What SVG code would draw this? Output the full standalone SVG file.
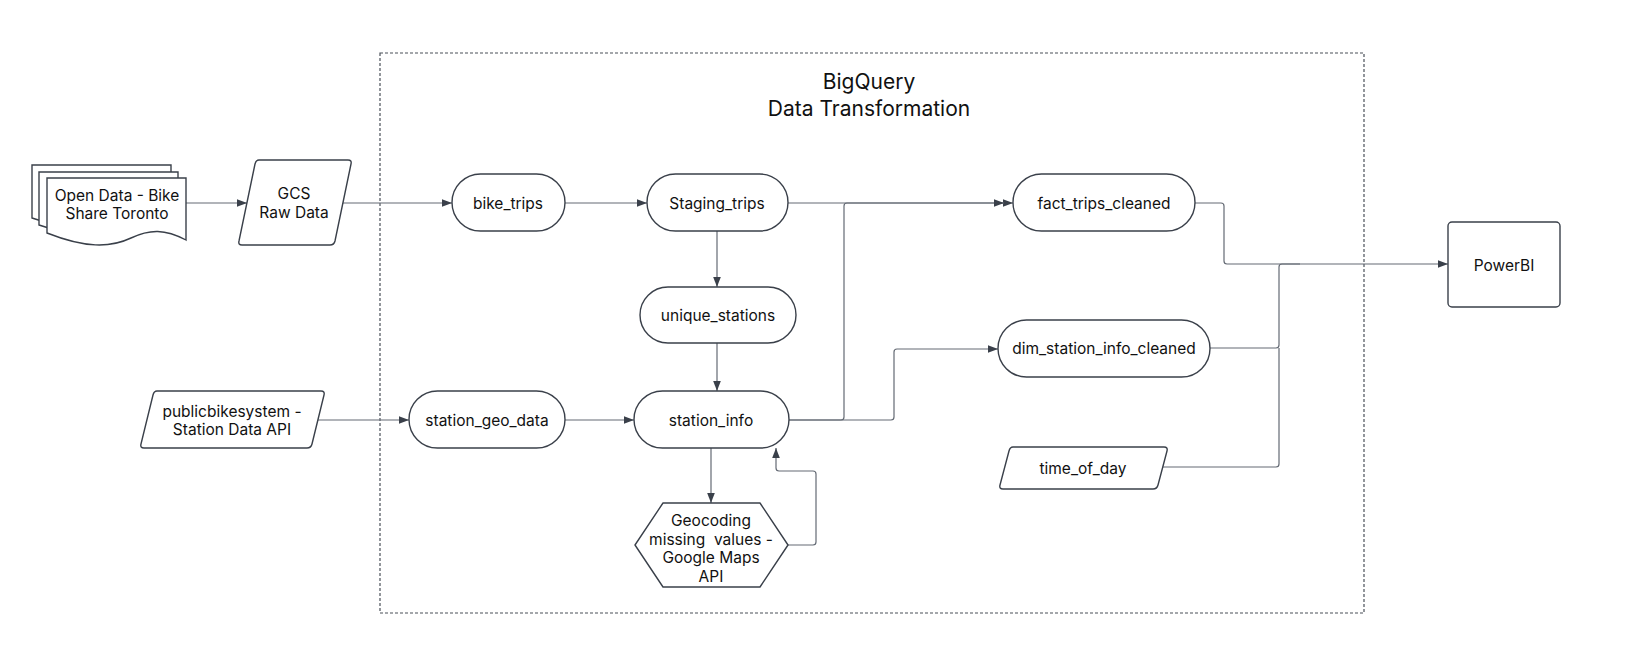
<svg xmlns="http://www.w3.org/2000/svg" width="1637" height="672" viewBox="0 0 1637 672">
<style>
.n{fill:#fff;stroke:#3a404a;stroke-width:1.4}
.t{font-family:Inter,"Liberation Sans",sans-serif;font-size:15.5px;fill:#111;text-anchor:middle;dominant-baseline:central}
.ttl{font-family:Inter,"Liberation Sans",sans-serif;font-size:21px;fill:#111;text-anchor:middle;dominant-baseline:central}
.c{fill:none;stroke:#646a74;stroke-width:1.2}
</style>
<defs>
<marker id="arr" viewBox="0 0 10 10" refX="10" refY="5" markerWidth="10" markerHeight="10" markerUnits="userSpaceOnUse" orient="auto"><path d="M0,1.2 L10,5 L0,8.8 z" fill="#3a404a"/></marker>
</defs>
<rect width="1637" height="672" fill="#fff"/>
<g id="container">
<rect x="380" y="53" width="984" height="560" fill="none" stroke="#4a5059" stroke-width="1.2" stroke-dasharray="3,2"/>
<text class="ttl" x="869" y="81">BigQuery</text>
<text class="ttl" x="869" y="108">Data Transformation</text>
</g>
<g id="connectors">
<path class="c" d="M186,203 H247" marker-end="url(#arr)"/>
<path class="c" d="M342,203 H452" marker-end="url(#arr)"/>
<path class="c" d="M565,203 H647" marker-end="url(#arr)"/>
<path class="c" d="M788,203 H1013" marker-end="url(#arr)"/>
<path class="c" d="M789,420 H841 Q844,420 844,417 V206 Q844,203 847,203 H1004" marker-end="url(#arr)"/>
<path class="c" d="M789,420 H891 Q894,420 894,417 V352 Q894,349 897,349 H998" marker-end="url(#arr)"/>
<path class="c" d="M717,231 V287" marker-end="url(#arr)"/>
<path class="c" d="M717,343 V391" marker-end="url(#arr)"/>
<path class="c" d="M565,420 H634" marker-end="url(#arr)"/>
<path class="c" d="M317,420 H409" marker-end="url(#arr)"/>
<path class="c" d="M711,448 V503" marker-end="url(#arr)"/>
<path class="c" d="M788,545 H813 Q816,545 816,542 V474 Q816,471 813,471 H779 Q776,471 776,468 V448" marker-end="url(#arr)"/>
<path class="c" d="M1195,203 H1221 Q1224,203 1224,206 V261 Q1224,264 1227,264 H1448" marker-end="url(#arr)"/>
<path class="c" d="M1210,348 H1276 Q1279,348 1279,345 V267 Q1279,264 1282,264 H1300"/>
<path class="c" d="M1162,467 H1276 Q1279,467 1279,464 V348"/>
</g>
<g id="open_data">
<path class="n" d="M32,165 H171 V220 C150,212 135,212 116,221 C95,231 70,231 32,218 Z"/>
<path class="n" d="M39,172 H178 V227 C157,219 142,219 123,228 C102,238 77,238 39,225 Z"/>
<path class="n" d="M47,178 H186 V240 C165,229 150,229 131,238 C110,248 85,248 47,233 Z"/>
<text class="t" x="117" y="195">Open Data - Bike</text>
<text class="t" x="117" y="213">Share Toronto</text>
</g>
<g id="gcs">
<path class="n" d="M259,160 H348 Q352,160 351,164 L335,241 Q334,245 330,245 H242 Q238,245 239,241 L255,164 Q256,160 259,160 Z"/>
<text class="t" x="294" y="193">GCS</text>
<text class="t" x="294" y="212">Raw Data</text>
</g>
<g id="publicbikesystem">
<path class="n" d="M157,391 H321 Q325,391 324,395 L312,444 Q311,448 307,448 H144 Q140,448 141,444 L153,395 Q154,391 157,391 Z"/>
<text class="t" x="232" y="411">publicbikesystem -</text>
<text class="t" x="232" y="429">Station Data API</text>
</g>
<g id="bike_trips">
<rect class="n" x="452" y="174" width="113" height="57" rx="28.5"/>
<text class="t" x="508" y="203">bike_trips</text>
</g>
<g id="staging_trips">
<rect class="n" x="647" y="174" width="141" height="57" rx="28.5"/>
<text class="t" x="717" y="203">Staging_trips</text>
</g>
<g id="fact_trips_cleaned">
<rect class="n" x="1013" y="174" width="182" height="57" rx="28.5"/>
<text class="t" x="1104" y="203">fact_trips_cleaned</text>
</g>
<g id="unique_stations">
<rect class="n" x="640" y="287" width="156" height="56" rx="28"/>
<text class="t" x="718" y="315">unique_stations</text>
</g>
<g id="station_geo_data">
<rect class="n" x="409" y="391" width="156" height="57" rx="28.5"/>
<text class="t" x="487" y="420">station_geo_data</text>
</g>
<g id="station_info">
<rect class="n" x="634" y="391" width="155" height="57" rx="28.5"/>
<text class="t" x="711" y="420">station_info</text>
</g>
<g id="dim_station_info_cleaned">
<rect class="n" x="998" y="320" width="212" height="57" rx="28.5"/>
<text class="t" x="1104" y="348">dim_station_info_cleaned</text>
</g>
<g id="geocoding">
<path class="n" d="M635,545 L663,503 H760 L788,545 L760,587 H663 Z" stroke-linejoin="round"/>
<text class="t" x="711" y="520">Geocoding</text>
<text class="t" x="711" y="539" xml:space="preserve">missing  values -</text>
<text class="t" x="711" y="557">Google Maps</text>
<text class="t" x="711" y="576">API</text>
</g>
<g id="time_of_day">
<path class="n" d="M1013,447 H1164 Q1168,447 1167,451 L1158,485 Q1157,489 1153,489 H1003 Q999,489 1000,485 L1009,451 Q1010,447 1013,447 Z"/>
<text class="t" x="1083" y="468">time_of_day</text>
</g>
<g id="powerbi">
<rect class="n" x="1448" y="222" width="112" height="85" rx="4"/>
<text class="t" x="1504" y="265">PowerBI</text>
</g>
</svg>
